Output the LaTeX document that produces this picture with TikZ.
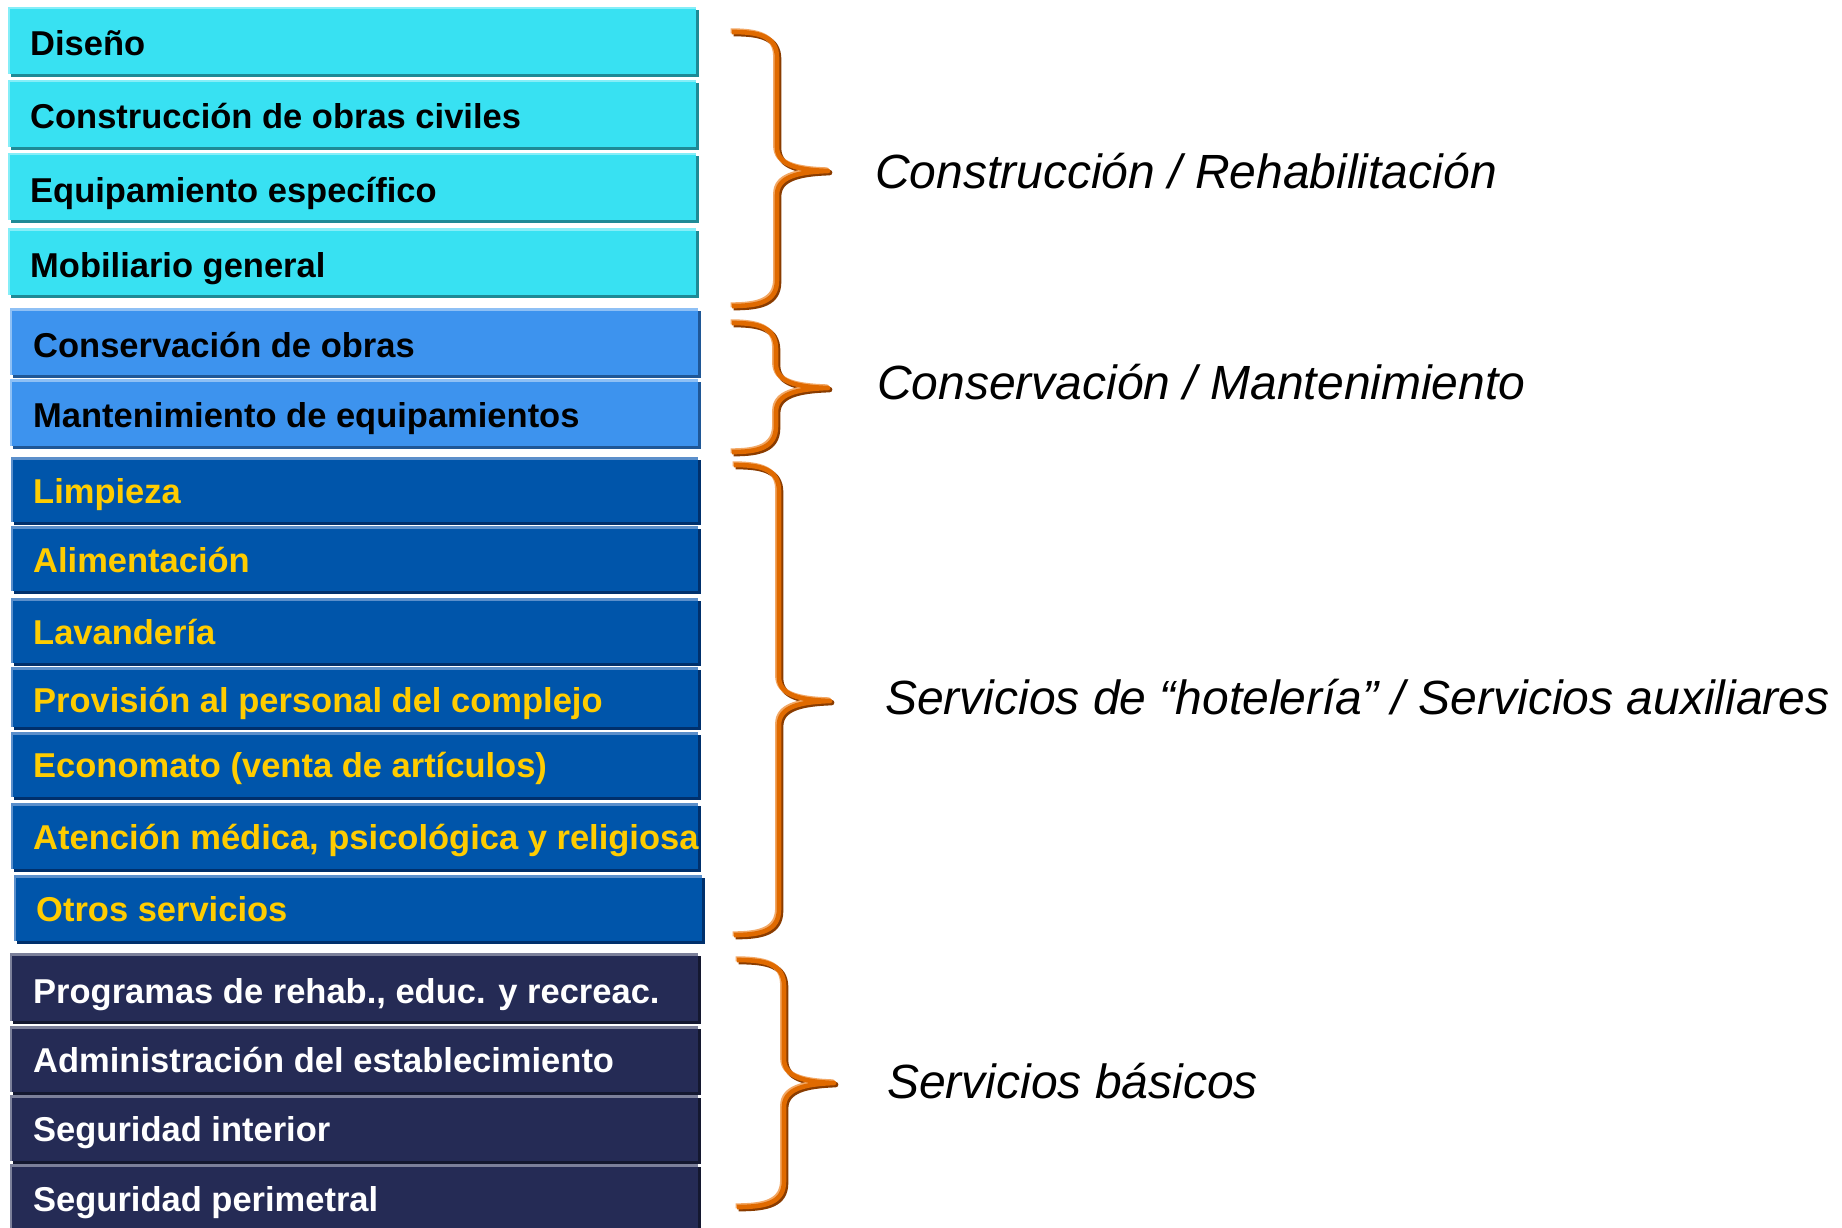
\documentclass[tikz,border=0pt]{standalone}
\usepackage{fontspec}
\setmainfont{Liberation Sans}
\definecolor{gAfill}{HTML}{38E1F2}
\definecolor{gAshad}{HTML}{1E8A96}
\definecolor{gAhi}{HTML}{85EEF8}
\definecolor{gBfill}{HTML}{3D93EE}
\definecolor{gBshad}{HTML}{1F5796}
\definecolor{gBhi}{HTML}{8EC0F5}
\definecolor{gCfill}{HTML}{0055AA}
\definecolor{gCshad}{HTML}{00306C}
\definecolor{gChi}{HTML}{5B8FCB}
\definecolor{gDfill}{HTML}{252B55}
\definecolor{gDshad}{HTML}{141830}
\definecolor{gDhi}{HTML}{7C809A}
\definecolor{txtyel}{HTML}{FFCC00}
\definecolor{brmain}{HTML}{E06A00}
\definecolor{brdark}{HTML}{8A3C00}
\definecolor{brlight}{HTML}{F2A866}
\newcommand{\mycell}[7]{%
  \fill[#6] ({#1+3},{#2+3}) rectangle ({#3+3},{#4+3});
  \fill[#5] (#1,#2) rectangle (#3,#4);
  \fill[#7] (#1,#2) rectangle (#3,{#2+2.5});
  \fill[#7] (#1,#2) rectangle ({#1+1.5},#4);
}
\newcommand{\bracepath}[6]{%
  (#1,#4) .. controls ({#2-18},{#4}) and (#2,{#4+4}) .. (#2,{#4+26})
  -- (#2,{#5-24}) .. controls (#2,{#5-6}) and ({#2+20},{#5-1}) .. (#3,#5)
  .. controls ({#2+20},{#5+1}) and (#2,{#5+6}) .. (#2,{#5+24})
  -- (#2,{#6-26}) .. controls (#2,{#6-4}) and ({#2-18},{#6}) .. (#1,#6)}
\newcommand{\obrace}[6]{%
  \draw[brdark, line width=5.5pt, line join=round, shift={(1.6,1.6)}] \bracepath{#1}{#2}{#3}{#4}{#5}{#6};
  \draw[brlight, line width=5pt, line join=round, shift={(-1.4,-1.2)}] \bracepath{#1}{#2}{#3}{#4}{#5}{#6};
  \draw[brmain, line width=4.6pt, line join=round] \bracepath{#1}{#2}{#3}{#4}{#5}{#6};
}
\begin{document}
\begin{tikzpicture}[x=1pt,y=-1pt,
  boxtxt/.style={anchor=base west, inner sep=0pt, font=\fontsize{34.5}{40}\selectfont\bfseries},
  blacktxt/.style={boxtxt, text=black},
  yeltxt/.style={boxtxt, text=txtyel},
  whitetxt/.style={boxtxt, text=white},
  lbl/.style={anchor=base west, inner sep=0pt, font=\fontsize{48}{56}\selectfont\itshape, text=black}]
\useasboundingbox[fill=white] (0,0) rectangle (1842,1228);

% group 1
\mycell{8}{7}{696}{74}{gAfill}{gAshad}{gAhi}
\mycell{8}{80}{696}{147}{gAfill}{gAshad}{gAhi}
\mycell{8}{153}{696}{220}{gAfill}{gAshad}{gAhi}
\mycell{8}{228}{696}{295}{gAfill}{gAshad}{gAhi}
\node[blacktxt] (t1) at (30,56) {Diseño};
\node[blacktxt] (t2) at (30,129) {Construcción de obras civiles};
\node[blacktxt] (t3) at (30,202) {Equipamiento específico};
\node[blacktxt] (t4) at (30,277) {Mobiliario general};

% group 2
\mycell{10}{308}{698}{375}{gBfill}{gBshad}{gBhi}
\mycell{10}{379}{698}{446}{gBfill}{gBshad}{gBhi}
\node[blacktxt] (t5) at (33,357) {Conservación de obras};
\node[blacktxt] (t6) at (33,427) {Mantenimiento de equipamientos};

% group 3
\mycell{11}{457}{698}{522}{gCfill}{gCshad}{gChi}
\mycell{11}{526}{698}{591}{gCfill}{gCshad}{gChi}
\mycell{11}{598}{698}{663}{gCfill}{gCshad}{gChi}
\mycell{11}{667}{698}{727}{gCfill}{gCshad}{gChi}
\mycell{11}{732}{698}{797}{gCfill}{gCshad}{gChi}
\mycell{11}{803}{698}{869}{gCfill}{gCshad}{gChi}
\mycell{14}{875}{702}{941}{gCfill}{gCshad}{gChi}
\node[yeltxt] (t7) at (33,503) {Limpieza};
\node[yeltxt] (t8) at (33,572) {Alimentación};
\node[yeltxt] (t9) at (33,644) {Lavandería};
\node[yeltxt] (t10) at (33,712) {Provisión al personal del complejo};
\node[yeltxt] (t11) at (33,777) {Economato (venta de artículos)};
\node[yeltxt] (t12) at (33,849) {Atención médica, psicológica y religiosa};
\node[yeltxt] (t13) at (36,921) {Otros servicios};

% group 4
\mycell{10}{953}{698}{1021}{gDfill}{gDshad}{gDhi}
\mycell{10}{1026}{698}{1092}{gDfill}{gDshad}{gDhi}
\mycell{10}{1095}{698}{1161}{gDfill}{gDshad}{gDhi}
\mycell{10}{1164}{698}{1245}{gDfill}{gDshad}{gDhi}
\node[whitetxt] (t14) at (33,1003) {Programas de rehab., educ. y recreac.};
\node[whitetxt] (t15) at (33,1072) {Administración del establecimiento};
\node[whitetxt] (t16) at (33,1141) {Seguridad interior};
\node[whitetxt] (t17) at (33,1211) {Seguridad perimetral};

% braces
\obrace{732}{777}{828}{32}{171}{306}
\obrace{732}{776}{828}{323}{388}{452}
\obrace{734}{779}{830}{465}{701}{935}
\obrace{737}{784}{834}{960}{1083}{1207}

% labels
\node[lbl] (l1) at (875,188) {Construcción / Rehabilitación};
\node[lbl] (l2) at (877,399) {Conservación / Mantenimiento};
\node[lbl] (l3) at (885,714) {Servicios de “hotelería” / Servicios auxiliares};
\node[lbl] (l4) at (887,1098) {Servicios básicos};
\end{tikzpicture}
\end{document}
